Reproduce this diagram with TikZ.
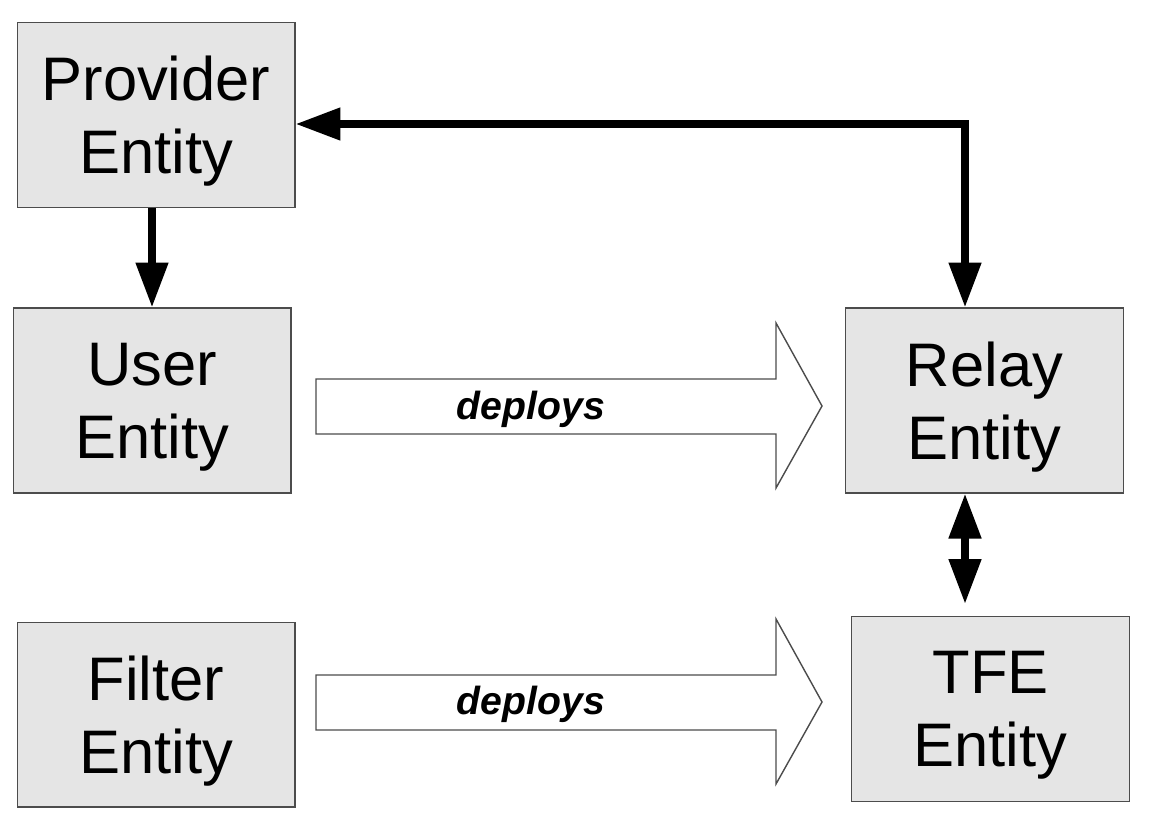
\documentclass[tikz,border=0pt]{standalone}
\usepackage{fontspec}
\setmainfont{Liberation Sans}
\usetikzlibrary{arrows.meta}

\begin{document}
\begin{tikzpicture}[x=0.02cm, y=-0.02cm,
		entity/.style={draw=black!70, fill=black!10, line width=0.6pt, inner sep=0pt,
			minimum width=5.56cm, minimum height=3.7cm, align=center, text depth=0pt,
			font=\fontsize{35}{41.5}\selectfont},
		flow/.style={line width=4.5pt, line join=miter},
		tri/.tip={Triangle[length=0.9cm, width=0.62cm]},
		deploy/.style={draw=black!70, line width=0.8pt, fill=white, line join=miter},
		deploytext/.style={font=\fontsize{22.3}{26}\selectfont\bfseries\itshape}]
		\useasboundingbox (0,0) rectangle (1152,832);
		% entities
		\node[entity] (provider) at (156,115) {Provider\\Entity};
		\node[entity] (user) at (152,400.5) {User\\Entity};
		\node[entity] (filter) at (156,714.5) {Filter\\Entity};
		\node[entity] (relay) at (984.5,400.5) {Relay\\Entity};
		\node[entity] (tfe) at (990.5,709) {TFE\\Entity};
		% control arrows
		\draw[flow, tri-tri] ([yshift=-0.18cm]provider.east) -| ([xshift=-0.39cm]relay.north);
		\draw[flow, -tri] (user.north |- provider.south) -- (user.north);
		\coordinate (tfein) at ([xshift=-0.51cm, yshift=0.24cm]tfe.north);
		\draw[flow, tri-tri] ([xshift=-0.39cm]relay.south) -- (tfein);
		% deploys arrows
		\draw[deploy] (316,379) -- (776,379) -- (776,323) -- (822,406) -- (776,488) -- (776,434) -- (316,434) -- cycle;
		\node[deploytext] (deploya) at (531,409) {deploys};
		\draw[deploy] (316,675) -- (776,675) -- (776,619) -- (822,702) -- (776,784) -- (776,730) -- (316,730) -- cycle;
		\node[deploytext] (deployb) at (531,704) {deploys};
\end{tikzpicture}
\end{document}
